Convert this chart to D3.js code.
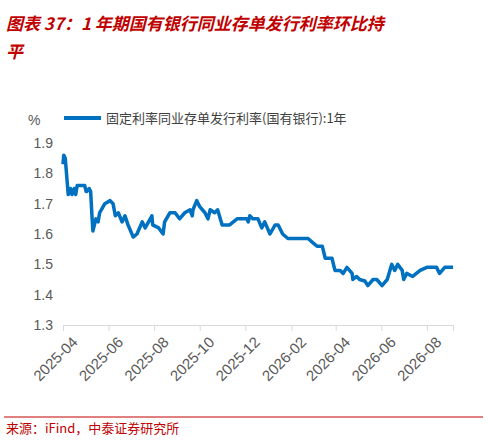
<!DOCTYPE html><html><head><meta charset="utf-8"><script src="https://cdn.jsdelivr.net/npm/d3@7"></script>
<style>body{margin:0;background:#fff}</style></head><body><svg id="c" width="488" height="440"></svg><script>
const startDate="2025-04-01", endDay=522;
const xTickLabels=["2025-04","2025-06","2025-08","2025-10","2025-12","2026-02","2026-04","2026-06","2026-08"];
const days=[0,1,3,7,10,12,15,17,19,29,31,32,35,37,39,40,44,47,49,56,63,67,70,74,79,83,87,94,99,106,110,119,120,128,134,136,143,150,156,163,170,173,174,179,183,190,194,197,203,207,213,223,233,246,248,250,254,261,266,270,277,284,288,294,301,328,335,340,347,351,356,360,364,371,375,380,387,388,393,397,404,408,415,420,427,434,440,444,448,454,456,460,468,478,487,500,504,511,515,522];
const values=[1.83,1.86,1.85,1.73,1.75,1.73,1.75,1.73,1.76,1.76,1.74,1.74,1.75,1.74,1.65,1.61,1.65,1.64,1.67,1.70,1.71,1.70,1.66,1.67,1.64,1.66,1.63,1.59,1.60,1.64,1.62,1.66,1.63,1.62,1.60,1.64,1.67,1.67,1.65,1.67,1.68,1.66,1.68,1.71,1.69,1.67,1.65,1.68,1.67,1.68,1.63,1.63,1.65,1.65,1.64,1.66,1.65,1.65,1.62,1.64,1.60,1.63,1.63,1.60,1.585,1.585,1.57,1.56,1.56,1.52,1.52,1.52,1.48,1.48,1.47,1.49,1.47,1.45,1.46,1.45,1.445,1.43,1.45,1.45,1.43,1.45,1.50,1.48,1.50,1.48,1.45,1.47,1.46,1.48,1.49,1.49,1.47,1.49,1.49,1.49];
const yTicks=[1.3,1.4,1.5,1.6,1.7,1.8,1.9];
const title1="图表 37：1 年期国有银行同业存单发行利率环比持", title2="平";
const legendLabel="固定利率同业存单发行利率(国有银行):1年";
const source="来源：iFind，中泰证券研究所";
const parse=d3.timeParse("%Y-%m-%d"), parseM=d3.timeParse("%Y-%m");
const t0=parse(startDate);
const data=days.map((d,i)=>({date:d3.timeDay.offset(t0,d),v:values[i]}));
const svg=d3.select("#c");
const x=d3.scaleTime().domain([t0,d3.timeDay.offset(t0,endDay)]).range([63,453]);
const y=d3.scaleLinear().domain([1.3,1.9]).range([325,143]);
const tf="'Noto Sans CJK SC','Microsoft YaHei',sans-serif";
svg.append("text").attr("x",6).attr("y",30).attr("fill","#c00000").attr("font-size",17).attr("font-weight","bold").attr("font-style","italic").attr("font-family",tf).text(title1);
svg.append("text").attr("x",6).attr("y",58).attr("fill","#c00000").attr("font-size",17).attr("font-weight","bold").attr("font-style","italic").attr("font-family",tf).text(title2);
const ya=svg.append("g").attr("transform","translate(63,0)").call(d3.axisLeft(y).tickValues(yTicks).tickFormat(d3.format(".1f")).tickSize(0).tickPadding(10));
ya.select(".domain").remove();
ya.selectAll("text").attr("font-size",14).attr("fill","#595959").attr("font-family","Arial,'Liberation Sans',sans-serif");
svg.append("text").attr("x",28).attr("y",125).attr("font-size",14).attr("fill","#595959").attr("font-family","Arial,sans-serif").text("%");
const xa=svg.append("g").attr("transform","translate(0,325)").call(d3.axisBottom(x).tickValues(xTickLabels.map(parseM)).tickFormat(d3.timeFormat("%Y-%m")).tickSizeOuter(0).tickSize(6));
xa.select(".domain").attr("stroke","#d9d9d9");
xa.selectAll("line").attr("stroke","#d9d9d9");
xa.selectAll("text").attr("font-size",15).attr("fill","#595959").attr("font-family","Arial,'Liberation Sans',sans-serif").attr("text-anchor","end").attr("transform","translate(5,8) rotate(-45)").attr("dy","0.35em").attr("dx","0");
svg.append("path").datum(data).attr("fill","none").attr("stroke","#0070c0").attr("stroke-width",3.5).attr("stroke-linejoin","round").attr("d",d3.line().x(d=>x(d.date)).y(d=>y(d.v)));
svg.append("line").attr("x1",64).attr("x2",101).attr("y1",118).attr("y2",118).attr("stroke","#0070c0").attr("stroke-width",4);
svg.append("text").attr("x",106).attr("y",123).attr("font-size",13).attr("fill","#404040").attr("font-family",tf).text(legendLabel);
svg.append("line").attr("x1",4).attr("x2",483).attr("y1",417).attr("y2",417).attr("stroke","#c00000").attr("stroke-width",1);
svg.append("text").attr("x",6).attr("y",433).attr("font-size",13).attr("fill","#c00000").attr("font-family","'Noto Sans CJK SC',serif").text(source);
</script></body></html>
